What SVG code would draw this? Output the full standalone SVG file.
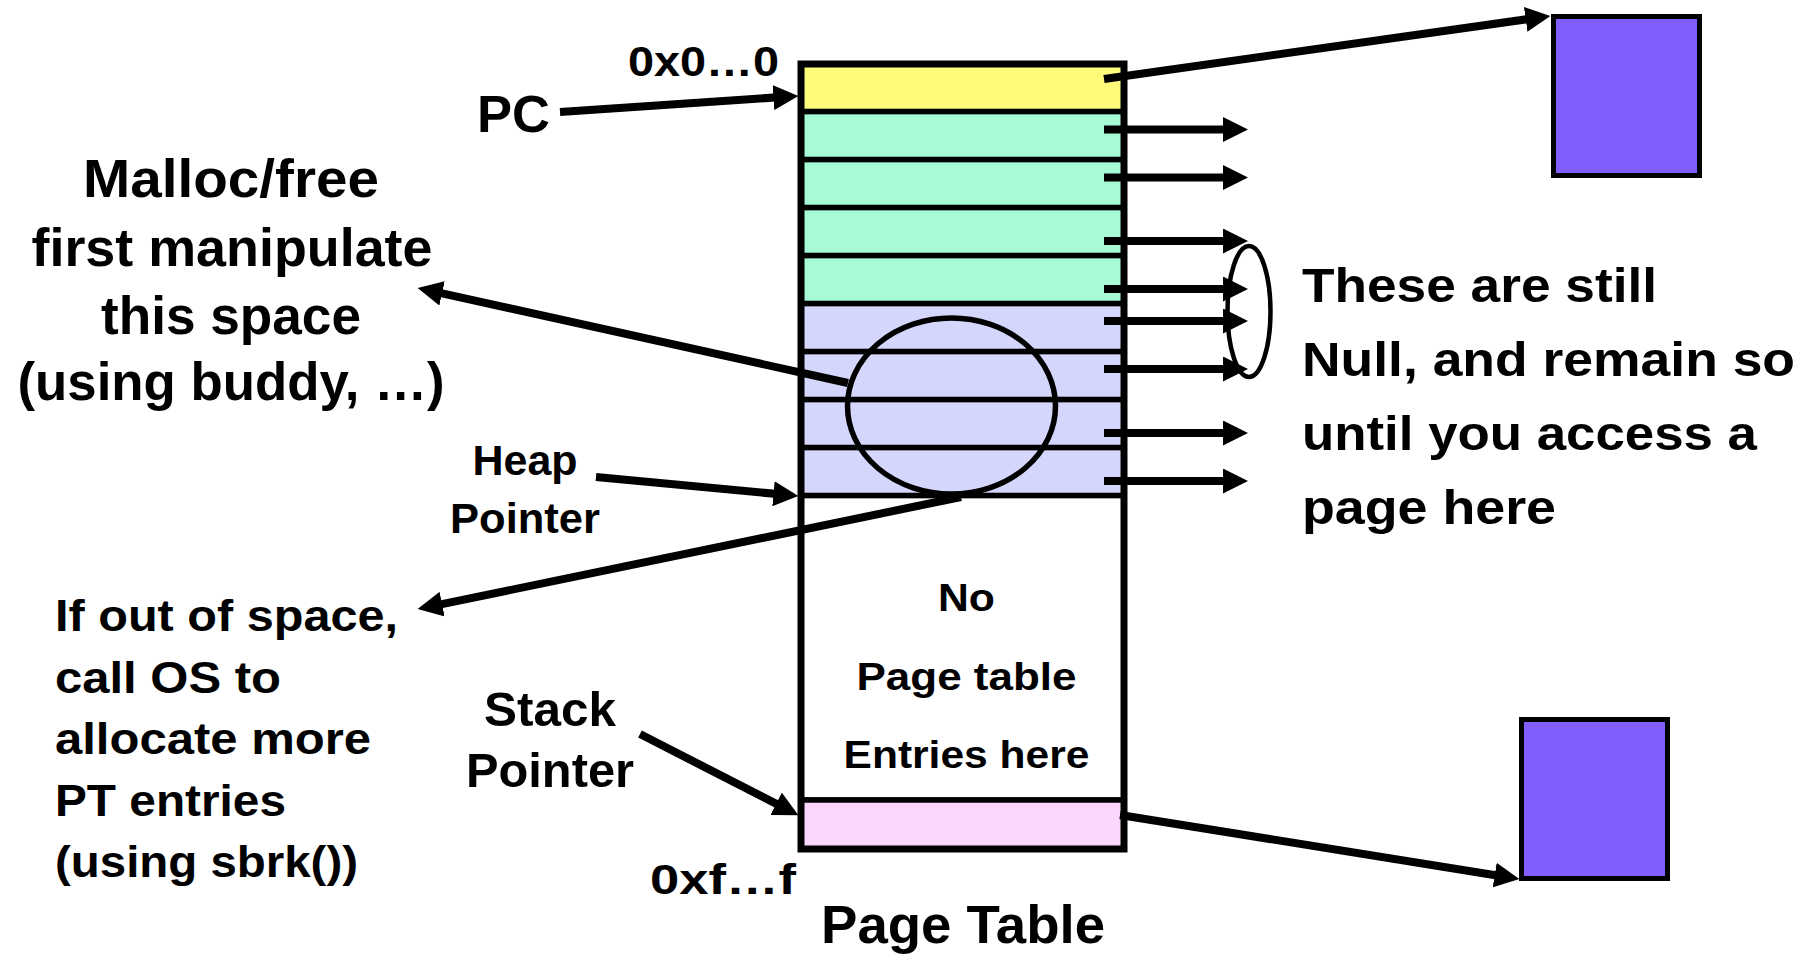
<svg xmlns="http://www.w3.org/2000/svg" width="1804" height="954" viewBox="0 0 1804 954">
<style>
text{font-family:"Liberation Sans",Arial,sans-serif;font-weight:bold;fill:#000}
.row{stroke:#000;stroke-width:5.5}
.conn{stroke:#000;stroke-width:8;fill:none}
.box{fill:#835EFF;stroke:#000;stroke-width:5}
</style>
<defs>
<marker id="ah" viewBox="0 0 10 10" refX="6" refY="5" markerWidth="25" markerHeight="25" orient="auto" markerUnits="userSpaceOnUse">
<path d="M0,0 L10,5 L0,10 z" fill="#000"/>
</marker>
</defs>
<rect width="1804" height="954" fill="#fff"/>

<g id="page-table">
<rect class="row" x="801" y="64" width="323" height="47.6" fill="#FFFB7A"/>
<rect class="row" x="801" y="111.6" width="323" height="48" fill="#A6FBD6"/>
<rect class="row" x="801" y="159.6" width="323" height="48" fill="#A6FBD6"/>
<rect class="row" x="801" y="207.6" width="323" height="48" fill="#A6FBD6"/>
<rect class="row" x="801" y="255.6" width="323" height="48" fill="#A6FBD6"/>
<rect class="row" x="801" y="303.6" width="323" height="48" fill="#D5D6FC"/>
<rect class="row" x="801" y="351.6" width="323" height="48" fill="#D5D6FC"/>
<rect class="row" x="801" y="399.6" width="323" height="48" fill="#D5D6FC"/>
<rect class="row" x="801" y="447.6" width="323" height="48" fill="#D5D6FC"/>
<rect class="row" x="801" y="495.6" width="323" height="304.4" fill="#fff"/>
<rect class="row" x="801" y="800" width="323" height="49" fill="#FCD7FD"/>
<rect x="801" y="64" width="323" height="785" fill="none" stroke="#000" stroke-width="7"/>
<text x="966.5" y="611" font-size="39" text-anchor="middle" textLength="57" lengthAdjust="spacingAndGlyphs">No</text>
<text x="966.5" y="690" font-size="39" text-anchor="middle" textLength="220" lengthAdjust="spacingAndGlyphs">Page table</text>
<text x="966.5" y="768" font-size="39" text-anchor="middle" textLength="246" lengthAdjust="spacingAndGlyphs">Entries here</text>
</g>

<g id="heap-ellipse">
<ellipse cx="951.5" cy="406" rx="104" ry="88" fill="none" stroke="#000" stroke-width="5.5"/>
</g>

<g id="null-ellipse">
<ellipse cx="1249" cy="311.5" rx="21.5" ry="65.5" fill="none" stroke="#000" stroke-width="4.5"/>
</g>

<g id="page-top">
<rect class="box" x="1553.5" y="16.5" width="146" height="159"/>
</g>
<g id="page-bottom">
<rect class="box" x="1521.5" y="719.5" width="146" height="159"/>
</g>

<g id="connectors">
<line class="conn" x1="560" y1="112" x2="788.4" y2="96.6" marker-end="url(#ah)"/>
<line class="conn" x1="596" y1="477" x2="788.4" y2="495.1" marker-end="url(#ah)"/>
<line class="conn" x1="640" y1="734" x2="789.5" y2="810.6" marker-end="url(#ah)"/>
<line class="conn" x1="848" y1="383" x2="427.4" y2="290.1" marker-end="url(#ah)"/>
<line class="conn" x1="961" y1="497" x2="427.4" y2="607.1" marker-end="url(#ah)"/>
<line class="conn" x1="1104" y1="79" x2="1540.5" y2="17.3" marker-end="url(#ah)"/>
<line class="conn" x1="1120" y1="815" x2="1509.5" y2="877.5" marker-end="url(#ah)"/>
<line class="conn" x1="1104" y1="129.5" x2="1238" y2="129.5" marker-end="url(#ah)"/>
<line class="conn" x1="1104" y1="177.5" x2="1238" y2="177.5" marker-end="url(#ah)"/>
<line class="conn" x1="1104" y1="241" x2="1238" y2="241" marker-end="url(#ah)"/>
<line class="conn" x1="1104" y1="289" x2="1238" y2="289" marker-end="url(#ah)"/>
<line class="conn" x1="1104" y1="321" x2="1238" y2="321" marker-end="url(#ah)"/>
<line class="conn" x1="1104" y1="369" x2="1238" y2="369" marker-end="url(#ah)"/>
<line class="conn" x1="1104" y1="433" x2="1238" y2="433" marker-end="url(#ah)"/>
<line class="conn" x1="1104" y1="481" x2="1238" y2="481" marker-end="url(#ah)"/>
</g>

<g id="label-addr-top">
<text x="628" y="76" font-size="43" textLength="151" lengthAdjust="spacingAndGlyphs">0x0…0</text>
</g>
<g id="label-pc">
<text x="477" y="132" font-size="52" textLength="73" lengthAdjust="spacingAndGlyphs">PC</text>
</g>
<g id="label-malloc">
<text x="231" y="197" font-size="54" text-anchor="middle" textLength="296" lengthAdjust="spacingAndGlyphs">Malloc/free</text>
<text x="232" y="266" font-size="54" text-anchor="middle" textLength="401" lengthAdjust="spacingAndGlyphs">first manipulate</text>
<text x="231" y="334" font-size="54" text-anchor="middle" textLength="260" lengthAdjust="spacingAndGlyphs">this space</text>
<text x="231" y="400" font-size="54" text-anchor="middle" textLength="427" lengthAdjust="spacingAndGlyphs">(using buddy, …)</text>
</g>
<g id="label-heap">
<text x="525" y="475" font-size="42" text-anchor="middle" textLength="105" lengthAdjust="spacingAndGlyphs">Heap</text>
<text x="525" y="533" font-size="42" text-anchor="middle" textLength="150" lengthAdjust="spacingAndGlyphs">Pointer</text>
</g>
<g id="label-sbrk">
<text x="55" y="631" font-size="44" textLength="343" lengthAdjust="spacingAndGlyphs">If out of space,</text>
<text x="55" y="692.5" font-size="44" textLength="226" lengthAdjust="spacingAndGlyphs">call OS to</text>
<text x="55" y="754" font-size="44" textLength="316" lengthAdjust="spacingAndGlyphs">allocate more</text>
<text x="55" y="815.5" font-size="44" textLength="231" lengthAdjust="spacingAndGlyphs">PT entries</text>
<text x="55" y="877" font-size="44" textLength="303" lengthAdjust="spacingAndGlyphs">(using sbrk())</text>
</g>
<g id="label-stack">
<text x="550" y="726" font-size="48" text-anchor="middle" textLength="132" lengthAdjust="spacingAndGlyphs">Stack</text>
<text x="550" y="787" font-size="48" text-anchor="middle" textLength="168" lengthAdjust="spacingAndGlyphs">Pointer</text>
</g>
<g id="label-addr-bottom">
<text x="650" y="894" font-size="43" textLength="146" lengthAdjust="spacingAndGlyphs">0xf…f</text>
</g>
<g id="label-title">
<text x="821" y="943" font-size="54" textLength="284" lengthAdjust="spacingAndGlyphs">Page Table</text>
</g>
<g id="label-null">
<text x="1302" y="302" font-size="49" textLength="355" lengthAdjust="spacingAndGlyphs">These are still</text>
<text x="1302" y="376" font-size="49" textLength="493" lengthAdjust="spacingAndGlyphs">Null, and remain so</text>
<text x="1302" y="450" font-size="49" textLength="455" lengthAdjust="spacingAndGlyphs">until you access a</text>
<text x="1302" y="524" font-size="49" textLength="254" lengthAdjust="spacingAndGlyphs">page here</text>
</g>
</svg>
